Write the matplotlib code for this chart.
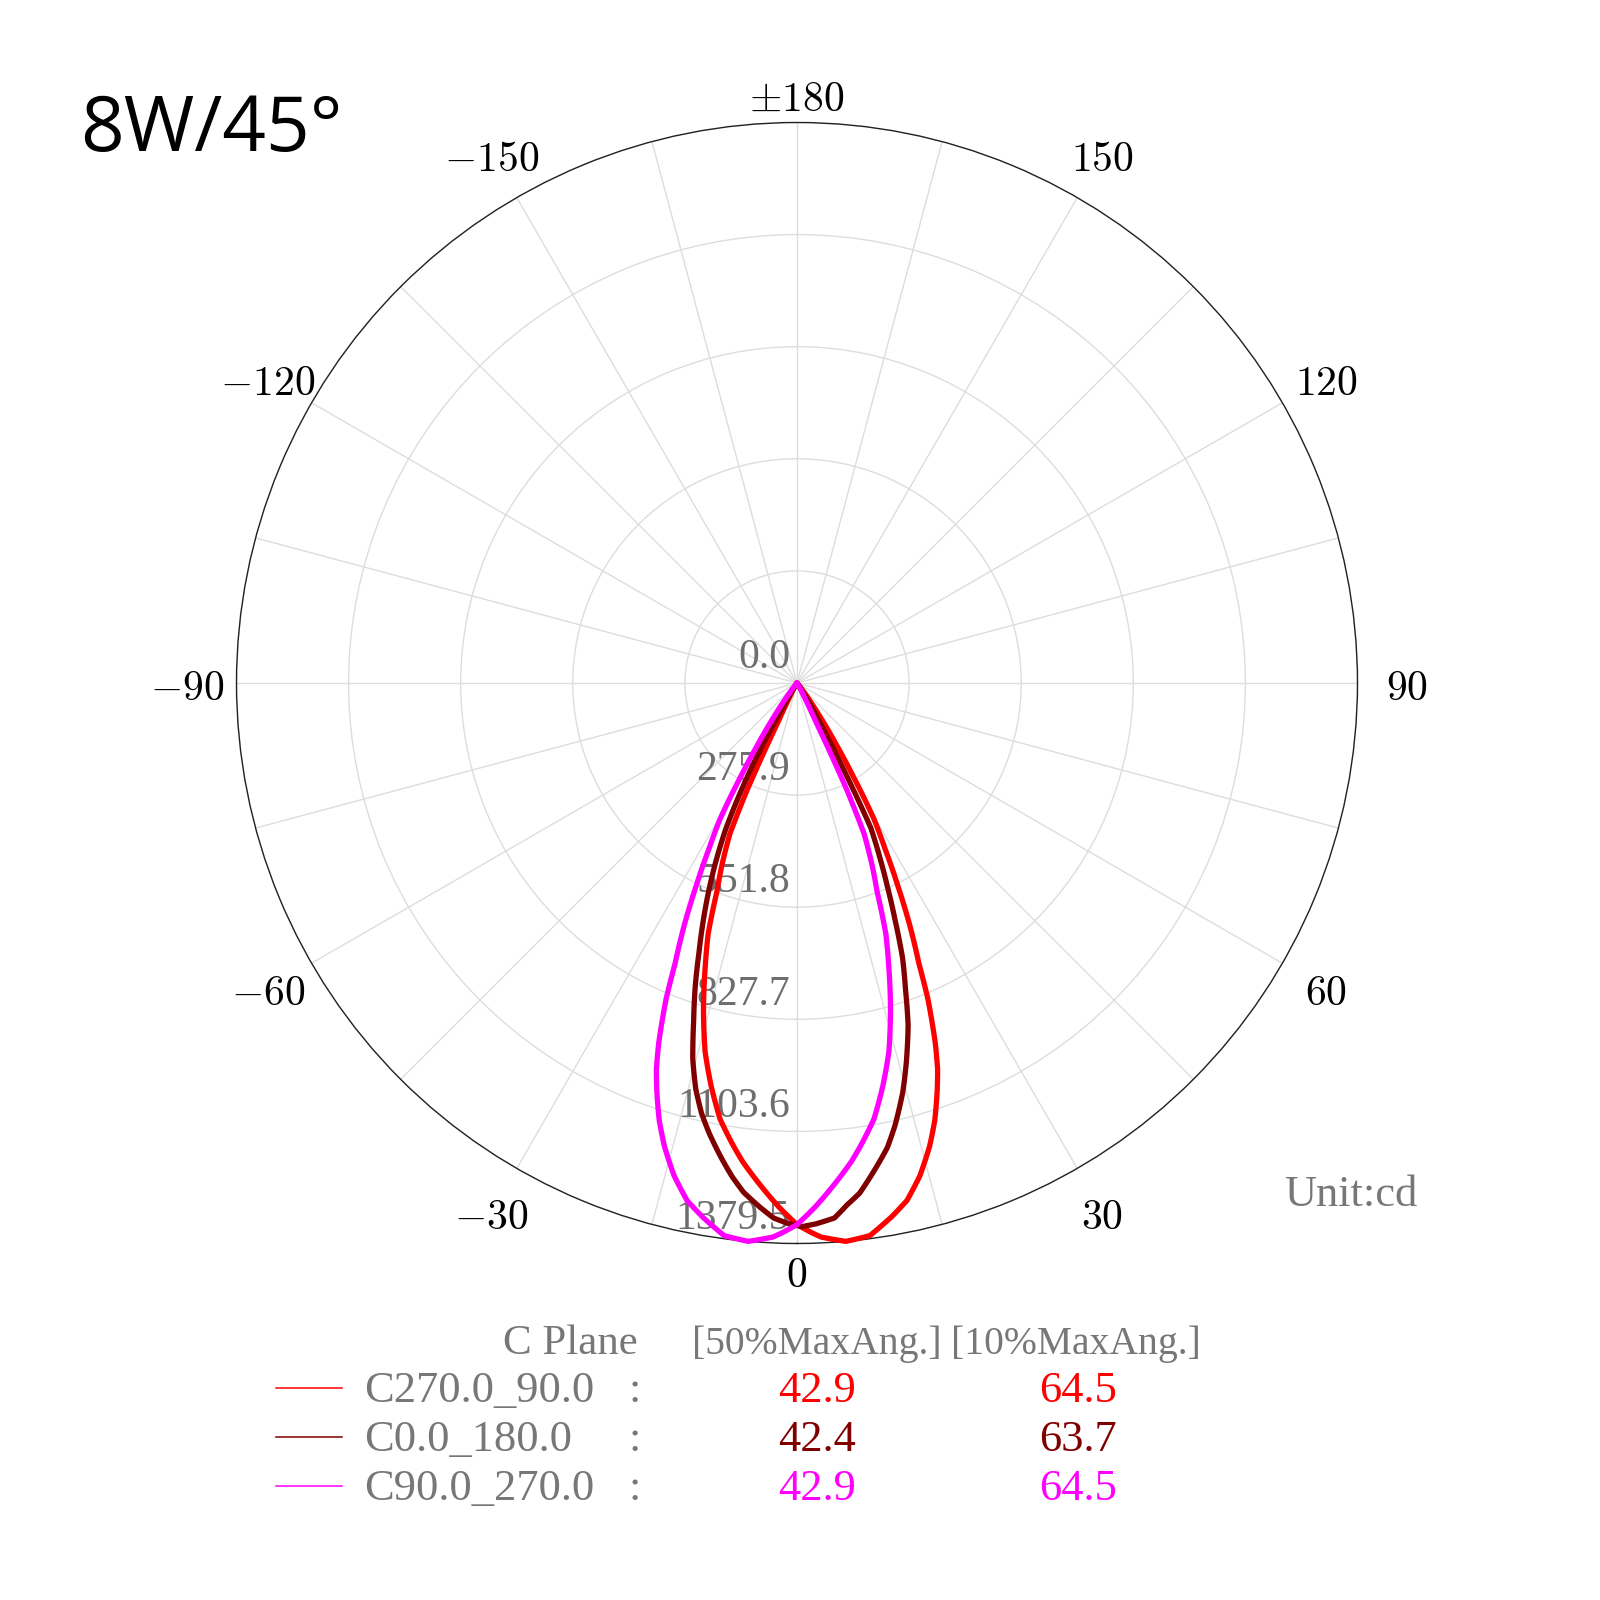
import numpy as np
import matplotlib
matplotlib.use('Agg')
import matplotlib.pyplot as plt
from matplotlib.transforms import offset_copy
from matplotlib.lines import Line2D
from matplotlib.path import Path
from matplotlib.patches import PathPatch

plt.rcParams['mathtext.fontset'] = 'cm'

# ---------------- data ----------------
title = "8W/45°"
unit_text = "Unit:cd"

ring_values = [0.0, 275.9, 551.8, 827.7, 1103.6, 1379.5]
ring_labels = ["0.0", "275.9", "551.8", "827.7", "1103.6", "1379.5"]

angle_ticks = [0, 30, 60, 90, 120, 150, 180, -150, -120, -90, -60, -30]
angle_labels = [r"$0$", r"$30$", r"$60$", r"$90$", r"$120$", r"$150$", r"$\pm180$",
                r"$-150$", r"$-120$", r"$-90$", r"$-60$", r"$-30$"]

# C270.0_90.0 (red)
red_gamma = [-90, -40, -35, -30, -28, -27, -26, -25, -24, -22.5,
             -21, -19.5, -18, -16, -14, -12, -10, -8, -6.5, -5,
             -3.5, -2, 0, 1.5, 2.5, 5, 7.5, 10, 12, 14,
             16, 17.5, 19, 20, 21, 22.5, 23.5, 25, 26.5, 28,
             29.5, 31, 32.5, 34.3, 36, 38, 40, 45, 50, 90]
red_I = [0, 0, 2, 10, 30, 55, 100, 290, 405, 480,
         550, 655, 730, 835, 935, 1015, 1090, 1145, 1185, 1220,
         1255, 1290, 1333, 1353, 1365, 1379.5, 1372, 1335, 1302, 1250,
         1185, 1128, 1060, 1012, 950, 842, 752, 655, 553, 460,
         385, 271, 180, 102, 50, 20, 8, 2, 0, 0]

# C0.0_180.0 (dark red)
dr_gamma = [-90, -40, -35, -32, -31, -30, -29, -28, -27, -26,
            -24.5, -23, -21.5, -20, -18.5, -17, -15.5, -14, -12.5, -11,
            -9, -7.5, -6, -4, -2.5, -1, 0.5, 2, 4, 5.5,
            7, 9, 11, 12.5, 14.5, 16, 18, 19.5, 21, 22.5,
            24, 25.5, 27, 27.8, 28.5, 29.5, 30.5, 32, 34, 37,
            40, 90]
dr_I = [0, 0, 3, 12, 30, 80, 170, 255, 330, 400,
        480, 556, 630, 705, 790, 870, 960, 1030, 1085, 1130,
        1185, 1225, 1260, 1294, 1318, 1330, 1338, 1332, 1320, 1290,
        1265, 1215, 1165, 1115, 1040, 975, 885, 800, 725, 630,
        545, 470, 400, 300, 220, 140, 90, 40, 15, 5,
        0, 0]

# C90.0_270.0 (magenta)
mag_gamma = [-90, -50, -45, -40, -38, -36, -34.3, -32.5, -31, -29.5,
             -28, -26.5, -25, -23.5, -22.5, -21, -20, -19, -17.5, -16,
             -14, -12, -10, -7.5, -5, -2.5, -1.5, 0, 2, 3.5,
             5, 6.5, 8, 10, 12, 14, 16, 18, 19.5, 21,
             22.5, 24, 25, 26, 27, 28, 30, 35, 40, 90]
mag_I = [0, 0, 2, 8, 20, 50, 102, 180, 271, 385,
         460, 553, 655, 752, 842, 950, 1012, 1060, 1128, 1185,
         1250, 1302, 1335, 1372, 1379.5, 1365, 1353, 1333, 1290, 1255,
         1220, 1185, 1145, 1090, 1015, 935, 835, 730, 655, 550,
         480, 405, 290, 100, 55, 30, 10, 2, 0, 0]

series_names = ["C270.0_90.0", "C0.0_180.0", "C90.0_270.0"]
series_colors = ["#ff0000", "#800000", "#ff00ff"]
half_max = ["42.9", "42.4", "42.9"]
tenth_max = ["64.5", "63.7", "64.5"]
header_plane = "C Plane"
header_50 = "[50%MaxAng.]"
header_10 = "[10%MaxAng.]"

# ---------------- figure ----------------
W = H = 1600
fig = plt.figure(figsize=(16, 16), dpi=100)
fig.patch.set_facecolor('white')

cx, cy, R = 797.0, 683.0, 560.5
ax = fig.add_axes([(cx - R) / W, 1 - (cy + R) / H, 2 * R / W, 2 * R / H],
                  projection='polar')
ax.set_theta_zero_location('S')
ax.set_theta_direction(1)
rmax = ring_values[-1]
ax.set_thetagrids(np.arange(0, 360, 15), labels=[''] * 24)
ax.set_rgrids(ring_values[1:], labels=[''] * (len(ring_values) - 1))
ax.grid(True, color='#dddddd', lw=1.0)
ax.spines['polar'].set_color('#222222')
ax.spines['polar'].set_linewidth(1.0)
ax.tick_params(length=0)

for g, I, c in [(red_gamma, red_I, series_colors[0]),
                (dr_gamma, dr_I, series_colors[1]),
                (mag_gamma, mag_I, series_colors[2])]:
    verts = np.column_stack([np.deg2rad(g), np.asarray(I, dtype=float)])
    path = Path(verts, _interpolation_steps=10)
    patch = PathPatch(path, fill=False, edgecolor=c, lw=3.8,
                      transform=ax.transData, clip_on=False,
                      joinstyle='round', capstyle='round', zorder=5)
    ax.add_patch(patch)

ax.set_rlim(0, rmax)

# theta labels
tl = offset_copy(ax.transData, fig=fig, x=0, y=-5, units='dots')
for a, lab in zip(angle_ticks, angle_labels):
    if a == 0:
        f = 1.048
    elif abs(a) == 180:
        f = 1.052
    elif abs(a) == 90:
        f = 1.088
    else:
        f = 1.09
    ax.text(np.deg2rad(a), rmax * f, lab, ha='center', va='center',
            fontsize=30, color='black', clip_on=False, transform=tl)

# ring labels
tr = offset_copy(ax.transData, fig=fig, x=-7, y=25, units='dots')
for rv, lab in zip(ring_values, ring_labels):
    ax.text(0, rv, lab, transform=tr, ha='right', va='center',
            fontsize=30, color='#6e6e6e', family='Liberation Serif',
            clip_on=False, zorder=4)

# title
fig.text(80 / W, 1 - 151 / H, title, fontsize=55, family='Open Sans',
         ha='left', va='baseline', color='black')

# unit
fig.text(1284 / W, 1 - 1206 / H, unit_text, fontsize=32, family='Liberation Serif',
         color='#777777', ha='left', va='baseline')

# legend table
grey = '#777777'
def fy(y):
    return 1 - y / H

hy = 1340 + 14
fig.text(503 / W, fy(hy), header_plane, fontsize=31, family='Liberation Serif',
         color=grey, ha='left', va='baseline')
fig.text(692 / W, fy(hy), header_50, fontsize=28.5, family='Liberation Serif',
         color=grey, ha='left', va='baseline')
fig.text(951 / W, fy(hy), header_10, fontsize=28.5, family='Liberation Serif',
         color=grey, ha='left', va='baseline')

row_y = [1388, 1437, 1486]
for yc, name, col, v50, v10 in zip(row_y, series_names, series_colors, half_max, tenth_max):
    fig.add_artist(Line2D([276 / W, 342 / W], [fy(yc), fy(yc)], color=col, lw=1.1,
                          transform=fig.transFigure))
    yb = fy(yc + 14)
    fig.text(364 / W, yb, name, fontsize=32, family='Liberation Serif',
             color=grey, ha='left', va='baseline')
    fig.text(635 / W, yb, ":", fontsize=32, family='Liberation Serif',
             color=grey, ha='center', va='baseline')
    fig.text(817 / W, yb, v50, fontsize=32, family='Liberation Serif',
             color=col, ha='center', va='baseline')
    fig.text(1078 / W, yb, v10, fontsize=32, family='Liberation Serif',
             color=col, ha='center', va='baseline')

fig.savefig('out.png', dpi=100, facecolor='white')
